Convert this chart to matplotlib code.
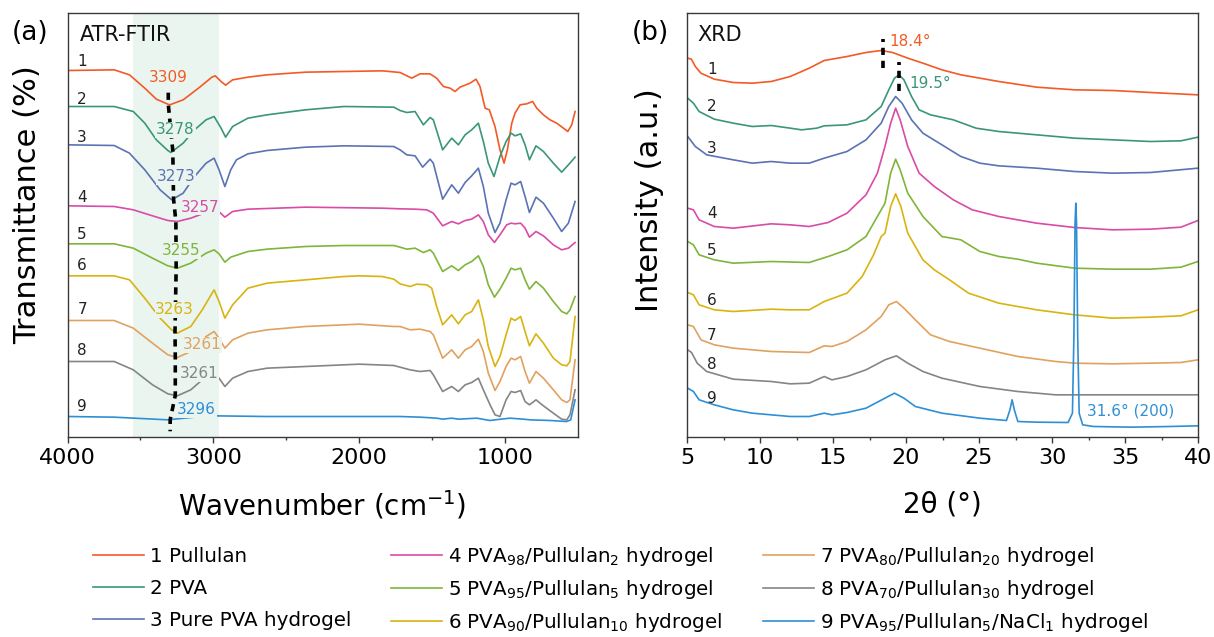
import matplotlib
matplotlib.use("Agg")
import matplotlib.pyplot as plt
import numpy as np

plt.rcParams['font.family'] = ['DejaVu Sans']
plt.rcParams['mathtext.fontset'] = 'dejavusans'

# ---------------- DATA ----------------
labels = ["1 Pullulan", "2 PVA", "3 Pure PVA hydrogel",
          "4 PVA$_{98}$/Pullulan$_{2}$ hydrogel",
          "5 PVA$_{95}$/Pullulan$_{5}$ hydrogel",
          "6 PVA$_{90}$/Pullulan$_{10}$ hydrogel",
          "7 PVA$_{80}$/Pullulan$_{20}$ hydrogel",
          "8 PVA$_{70}$/Pullulan$_{30}$ hydrogel",
          "9 PVA$_{95}$/Pullulan$_{5}$/NaCl$_{1}$ hydrogel"]
colors = ['#F25A26', '#3A9679', '#5B73B5', '#D94BA6', '#7FB539',
          '#D9B310', '#E0A25E', '#858585', '#2E8FD6']

# FTIR (wavenumber cm-1, transmittance a.u. incl. offset)
ftir1_x = [4000, 3680, 3575, 3470, 3391, 3312, 3299, 3207, 3102, 3010, 2987, 2947, 2916, 2868, 2763, 2632, 2368, 2105, 1842, 1720, 1640, 1583, 1515, 1469, 1423, 1377, 1343, 1309, 1240, 1199, 1172, 1137, 1108, 1069, 1035, 1007, 984, 954, 932, 897, 852, 811, 783, 737, 692, 646, 600, 570, 543, 520]
ftir1_y = [1098, 1100, 1085, 1045, 1012, 997, 995, 1010, 1045, 1078, 1082, 1065, 1054, 1070, 1078, 1085, 1093, 1095, 1097, 1092, 1075, 1088, 1088, 1075, 1050, 1045, 1035, 1048, 1060, 1072, 1050, 985, 980, 930, 860, 820, 860, 940, 970, 995, 998, 1005, 985, 965, 950, 940, 925, 915, 935, 975]
ftir2_x = [4000, 3680, 3549, 3470, 3391, 3312, 3291, 3207, 3129, 3050, 2995, 2947, 2916, 2868, 2763, 2632, 2368, 2105, 1763, 1720, 1674, 1617, 1560, 1514, 1492, 1428, 1366, 1320, 1274, 1229, 1183, 1149, 1115, 1076, 1035, 993, 959, 932, 893, 863, 833, 788, 737, 669, 612, 566, 520]
ftir2_y = [990, 990, 975, 940, 890, 858, 852, 880, 920, 950, 960, 925, 898, 930, 955, 965, 980, 990, 988, 978, 972, 975, 935, 957, 950, 860, 895, 875, 905, 920, 940, 885, 820, 780, 840, 885, 910, 902, 908, 875, 830, 872, 855, 820, 793, 815, 838]
ftir3_x = [4000, 3680, 3575, 3470, 3365, 3286, 3207, 3129, 3050, 2995, 2961, 2921, 2881, 2842, 2763, 2632, 2368, 2105, 1763, 1720, 1674, 1617, 1565, 1514, 1492, 1428, 1366, 1320, 1274, 1229, 1183, 1149, 1115, 1069, 1035, 993, 959, 932, 893, 863, 833, 788, 737, 669, 612, 566, 520]
ftir3_y = [875, 873, 850, 800, 740, 710, 730, 780, 820, 835, 800, 750, 800, 830, 848, 858, 868, 872, 870, 860, 845, 842, 808, 832, 820, 712, 755, 730, 762, 782, 805, 750, 670, 612, 640, 710, 760, 755, 765, 720, 672, 718, 700, 655, 615, 640, 705]
ftir4_x = [4000, 3680, 3549, 3417, 3312, 3247, 3155, 3050, 2987, 2955, 2921, 2868, 2763, 2368, 1842, 1720, 1617, 1537, 1492, 1428, 1366, 1320, 1274, 1229, 1183, 1149, 1115, 1073, 1035, 989, 959, 932, 893, 863, 833, 788, 737, 669, 612, 566, 520]
ftir4_y = [692, 690, 680, 662, 648, 645, 655, 672, 680, 672, 658, 675, 682, 688, 685, 683, 682, 680, 670, 632, 645, 638, 648, 652, 665, 645, 605, 582, 605, 635, 640, 638, 640, 625, 598, 615, 602, 575, 560, 565, 582]
ftir5_x = [4000, 3680, 3549, 3417, 3312, 3247, 3155, 3050, 2995, 2961, 2921, 2881, 2763, 2632, 2368, 2105, 1763, 1720, 1674, 1617, 1560, 1514, 1492, 1428, 1366, 1320, 1274, 1229, 1183, 1149, 1115, 1073, 1035, 993, 959, 932, 893, 863, 833, 788, 737, 669, 612, 577, 555, 520]
ftir5_y = [578, 578, 565, 535, 512, 505, 520, 550, 560, 548, 523, 538, 555, 562, 570, 573, 573, 568, 562, 565, 552, 560, 550, 495, 512, 498, 515, 525, 542, 510, 455, 418, 442, 475, 505, 500, 505, 470, 442, 465, 445, 405, 375, 368, 380, 420]
ftir6_x = [4000, 3680, 3575, 3470, 3365, 3286, 3247, 3155, 3076, 2995, 2961, 2921, 2868, 2763, 2632, 2368, 2105, 2000, 1842, 1763, 1720, 1651, 1606, 1537, 1503, 1469, 1428, 1366, 1320, 1274, 1229, 1183, 1149, 1115, 1069, 1035, 993, 959, 932, 893, 863, 833, 788, 737, 669, 612, 577, 555, 520]
ftir6_y = [482, 482, 470, 415, 355, 320, 310, 330, 380, 440, 405, 355, 395, 445, 460, 470, 480, 482, 480, 472, 458, 450, 457, 455, 445, 390, 335, 365, 338, 365, 375, 410, 350, 270, 210, 240, 305, 355, 348, 360, 315, 272, 308, 280, 235, 215, 212, 225, 360]
ftir7_x = [4000, 3680, 3549, 3417, 3312, 3247, 3155, 3050, 2995, 2961, 2921, 2868, 2763, 2632, 2368, 2000, 1763, 1720, 1651, 1583, 1514, 1492, 1428, 1366, 1320, 1274, 1229, 1183, 1149, 1115, 1069, 1035, 993, 959, 932, 893, 863, 833, 788, 737, 669, 612, 577, 555, 520]
ftir7_y = [348, 348, 325, 280, 245, 237, 255, 300, 315, 295, 265, 290, 310, 320, 330, 337, 330, 330, 320, 322, 315, 305, 235, 260, 235, 260, 270, 292, 255, 190, 138, 165, 210, 235, 230, 240, 195, 160, 195, 175, 140, 110, 102, 110, 230]
ftir8_x = [4000, 3680, 3549, 3417, 3312, 3247, 3155, 3050, 2995, 2961, 2921, 2868, 2763, 2632, 2368, 2000, 1763, 1720, 1651, 1583, 1514, 1492, 1428, 1366, 1320, 1274, 1229, 1183, 1149, 1103, 1069, 1035, 993, 959, 932, 893, 863, 833, 788, 737, 669, 612, 577, 555, 520]
ftir8_y = [225, 225, 200, 155, 128, 122, 140, 180, 195, 175, 150, 175, 195, 205, 210, 217, 213, 208, 200, 195, 198, 185, 135, 150, 135, 155, 162, 175, 140, 95, 65, 60, 110, 135, 132, 138, 105, 95, 110, 92, 70, 52, 50, 65, 140]
ftir9_x = [4000, 3680, 3312, 3155, 3000, 2632, 2000, 1720, 1583, 1469, 1428, 1366, 1320, 1194, 1103, 1069, 966, 875, 829, 692, 577, 550, 520]
ftir9_y = [60, 58, 50, 57, 62, 60, 60, 60, 58, 55, 52, 55, 52, 55, 48, 50, 55, 52, 50, 48, 45, 50, 110]
ftir_peaks = [3309, 3278, 3273, 3257, 3255, 3263, 3261, 3261, 3296]

# XRD (2theta deg, intensity a.u. incl. offset)
xrd1_x = [5.05, 5.3, 5.57, 5.95, 6.87, 8.17, 9.47, 10.77, 12.07, 13.37, 14.4, 15.96, 17.26, 18.3, 19.08, 20.12, 21.16, 22.46, 23.76, 26.36, 28.95, 31.55, 34.15, 36.75, 40]
xrd1_y = [1135, 1132, 1110, 1090, 1072, 1062, 1060, 1065, 1080, 1105, 1128, 1140, 1152, 1158, 1152, 1135, 1120, 1100, 1085, 1065, 1048, 1040, 1038, 1032, 1025]
xrd2_x = [5.05, 5.44, 5.83, 6.87, 8.17, 9.47, 10.77, 12.07, 12.85, 13.89, 14.4, 15.96, 17.26, 18.3, 18.82, 19.21, 19.52, 19.86, 20.38, 20.9, 21.68, 23.24, 24.8, 26.36, 28.95, 31.55, 34.15, 36.75, 38.83, 40]
xrd2_y = [1015, 1000, 975, 952, 940, 930, 933, 925, 920, 925, 932, 935, 950, 990, 1040, 1075, 1085, 1070, 1020, 980, 965, 950, 925, 915, 905, 895, 890, 885, 887, 898]
xrd3_x = [5.05, 5.57, 6.35, 8.17, 9.47, 10.77, 12.07, 13.37, 14.4, 15.96, 17.26, 18.3, 18.82, 19.29, 19.73, 20.38, 21.16, 22.46, 23.76, 25.06, 26.36, 28.95, 31.55, 34.15, 36.75, 40]
xrd3_y = [900, 870, 845, 830, 820, 825, 820, 820, 835, 855, 890, 940, 990, 1020, 1000, 950, 910, 875, 840, 820, 812, 805, 795, 790, 792, 805]
xrd4_x = [5.05, 5.44, 5.83, 6.87, 8.17, 10.77, 12.07, 13.37, 14.67, 15.96, 17.26, 18.04, 18.56, 18.95, 19.29, 19.6, 20.12, 20.9, 21.94, 23.24, 24.54, 26.36, 28.95, 31.55, 34.15, 36.75, 38.83, 40]
xrd4_y = [685, 680, 650, 630, 625, 638, 635, 630, 642, 670, 725, 790, 870, 940, 985, 950, 870, 790, 750, 710, 680, 660, 640, 627, 620, 622, 628, 648]
xrd5_x = [5.05, 5.44, 5.83, 6.87, 8.17, 10.77, 13.37, 14.67, 15.96, 17.26, 18.56, 18.95, 19.29, 19.6, 20.12, 21.16, 22.46, 23.76, 25.06, 26.36, 27.66, 28.95, 31.55, 34.15, 36.75, 38.83, 40]
xrd5_y = [585, 575, 545, 530, 520, 525, 522, 540, 560, 600, 700, 790, 832, 800, 730, 660, 600, 590, 555, 540, 532, 520, 505, 502, 502, 508, 525]
xrd6_x = [5.05, 5.44, 5.83, 6.87, 8.17, 10.77, 12.07, 13.37, 14.4, 15.96, 17.0, 17.78, 18.3, 18.56, 18.95, 19.29, 19.65, 20.12, 20.38, 21.16, 21.94, 22.98, 24.28, 26.36, 28.95, 31.55, 34.15, 36.75, 38.83, 40]
xrd6_y = [432, 425, 395, 380, 375, 382, 380, 380, 405, 430, 480, 545, 600, 610, 690, 728, 690, 610, 590, 530, 500, 470, 430, 400, 380, 365, 355, 358, 362, 380]
xrd7_x = [5.05, 5.44, 5.96, 6.87, 8.17, 10.77, 13.37, 14.4, 14.93, 15.96, 17.26, 18.3, 18.82, 19.34, 19.86, 20.64, 21.68, 22.98, 25.06, 27.66, 30.25, 31.55, 34.15, 36.75, 38.83, 40]
xrd7_y = [335, 330, 290, 275, 265, 255, 252, 272, 270, 285, 320, 360, 395, 405, 385, 350, 305, 285, 265, 240, 225, 220, 218, 220, 222, 230]
xrd8_x = [5.05, 5.31, 5.7, 6.35, 8.17, 10.77, 12.07, 13.37, 14.4, 14.93, 15.96, 17.26, 18.56, 19.34, 20.12, 21.16, 22.46, 25.06, 27.66, 30.25, 32.85, 40]
xrd8_y = [260, 252, 220, 195, 172, 165, 158, 160, 180, 170, 180, 200, 230, 242, 220, 195, 175, 150, 135, 125, 125, 125]
xrd9_x = [5.05, 5.44, 5.83, 6.87, 8.17, 9.47, 10.77, 12.07, 13.37, 14.4, 14.93, 15.96, 17.26, 18.56, 19.21, 19.86, 20.64, 22.46, 25.06, 26.88, 27.12, 27.27, 27.42, 27.66, 28.95, 31.1, 31.4, 31.5, 31.58, 31.63, 31.68, 31.76, 31.86, 32.1, 32.85, 35.45, 38.05, 40]
xrd9_y = [145, 135, 110, 95, 80, 70, 65, 60, 60, 70, 65, 72, 85, 115, 130, 115, 90, 70, 55, 48, 80, 110, 80, 45, 43, 42, 70, 300, 640, 700, 640, 300, 70, 35, 30, 28, 30, 32]

ftir_x = [ftir1_x, ftir2_x, ftir3_x, ftir4_x, ftir5_x, ftir6_x, ftir7_x, ftir8_x, ftir9_x]
ftir_y = [ftir1_y, ftir2_y, ftir3_y, ftir4_y, ftir5_y, ftir6_y, ftir7_y, ftir8_y, ftir9_y]
xrd_x = [xrd1_x, xrd2_x, xrd3_x, xrd4_x, xrd5_x, xrd6_x, xrd7_x, xrd8_x, xrd9_x]
xrd_y = [xrd1_y, xrd2_y, xrd3_y, xrd4_y, xrd5_y, xrd6_y, xrd7_y, xrd8_y, xrd9_y]

# ---------------- FIGURE ----------------
W, H = 1214, 637
fig = plt.figure(figsize=(W / 100, H / 100), dpi=100)
ax_b = (637 - 436.5) / H
ax_h = 423.8 / H
ax1 = fig.add_axes([67.5 / W, ax_b, 510.5 / W, ax_h])
ax2 = fig.add_axes([687 / W, ax_b, 511 / W, ax_h])
YMAX = 1271.4
SPAN_C = '#EAF5F0'

spine_c = '#3a3a3a'
for ax in (ax1, ax2):
    for s in ax.spines.values():
        s.set_color(spine_c)
        s.set_linewidth(1.0)
    ax.set_yticks([])
    ax.set_ylim(0, YMAX)
    ax.tick_params(axis='x', which='major', direction='out', length=4.5, width=1.0,
                   labelsize=16, pad=4, color=spine_c)
    ax.tick_params(axis='x', which='minor', direction='out', length=2.2, width=1.0,
                   color=spine_c)

# ---- FTIR panel ----
ax1.axvspan(2958, 3554, color=SPAN_C, zorder=0, lw=0)
for i in range(9):
    ax1.plot(ftir_x[i], ftir_y[i], color=colors[i], lw=1.2, label=labels[i], zorder=2)
ax1.set_xlim(4000, 500)
ax1.set_xticks([4000, 3000, 2000, 1000])
ax1.set_xticks([3500, 2500, 1500], minor=True)

# dashed marker through the O-H minima
mx = [ftir_peaks[0]] + ftir_peaks + [ftir_peaks[-1]]
my = [np.interp(ftir_peaks[i], ftir_x[i][::-1], ftir_y[i][::-1]) for i in range(9)]
my = [my[0] + 35] + my + [my[-1] - 35]
ax1.plot(mx, my, color='black', lw=2.6, ls=(0, (2.0, 1.6)), zorder=3)

peak_pos = [(3312, 1078), (3260, 920), (3255, 780), (3090, 688), (3220, 558),
            (3265, 380), (3076, 275), (3097, 188), (3115, 80)]
for i, (px, py) in enumerate(peak_pos):
    ax1.text(px, py, str(ftir_peaks[i]), color=colors[i], fontsize=11,
             ha='center', va='center', zorder=4,
             bbox=dict(boxstyle='square,pad=0.05', fc=SPAN_C, ec='none'))

num_y_ftir = [1125, 1010, 898, 717, 605, 512, 380, 258, 90]
for i, yy in enumerate(num_y_ftir):
    ax1.text(3900, yy, str(i + 1), fontsize=11, color='#222222', ha='center', va='center')
ax1.text(0.0245, 0.947, 'ATR-FTIR', transform=ax1.transAxes, fontsize=15,
         ha='left', va='center', color='#111111')

# ---- XRD panel ----
for i in range(9):
    ax2.plot(xrd_x[i], xrd_y[i], color=colors[i], lw=1.2, zorder=2)
ax2.set_xlim(5, 40)
ax2.set_xticks(np.arange(5, 41, 5))
ax2.set_xticks(np.arange(7.5, 40, 5), minor=True)

ax2.plot([18.4, 18.4], [1105, 1192], color='black', lw=2.6, ls=(0, (2.0, 1.6)), zorder=3)
ax2.plot([19.5, 19.5], [1038, 1125], color='black', lw=2.6, ls=(0, (2.0, 1.6)), zorder=3)
ax2.text(18.87, 1185, '18.4°', color=colors[0], fontsize=11, ha='left', va='center')
ax2.text(20.25, 1060, '19.5°', color=colors[1], fontsize=11, ha='left', va='center')
ax2.text(32.4, 75, '31.6° (200)', color=colors[8], fontsize=11, ha='left', va='center')

num_y_xrd = [1100, 990, 865, 670, 558, 408, 302, 215, 115]
for i, yy in enumerate(num_y_xrd):
    ax2.text(6.7, yy, str(i + 1), fontsize=11, color='#222222', ha='center', va='center')
ax2.text(0.021, 0.947, 'XRD', transform=ax2.transAxes, fontsize=15,
         ha='left', va='center', color='#111111')

# ---- panel letters and axis titles ----
fig.text(30 / W, 1 - 33 / H, '(a)', fontsize=19, ha='center', va='center')
fig.text(650 / W, 1 - 33 / H, '(b)', fontsize=19, ha='center', va='center')
fig.text(28 / W, 1 - 205 / H, 'Transmittance (%)', fontsize=22, rotation=90,
         ha='center', va='center')
fig.text(650 / W, 1 - 200 / H, 'Intensity (a.u.)', fontsize=22, rotation=90,
         ha='center', va='center')
fig.text(322 / W, 1 - 505 / H, 'Wavenumber (cm$^{-1}$)', fontsize=20,
         ha='center', va='center')
fig.text(942 / W, 1 - 505 / H, '2θ (°)', fontsize=20, ha='center', va='center')

# ---- legend: one block per column ----
handles = ax1.get_lines()[:9]
col_x = [93, 391, 763]
col_ls = [0.66, 0.5, 0.5]
col_top = [547, 545, 545]
for c in range(3):
    fig.legend(handles[3 * c:3 * c + 3], labels[3 * c:3 * c + 3], loc='upper left',
               bbox_to_anchor=(col_x[c] / W, 1 - col_top[c] / H), frameon=False,
               fontsize=14.3, handlelength=2.55, handletextpad=0.3,
               labelspacing=col_ls[c], borderpad=0, borderaxespad=0)

fig.savefig('out.png', dpi=100)
